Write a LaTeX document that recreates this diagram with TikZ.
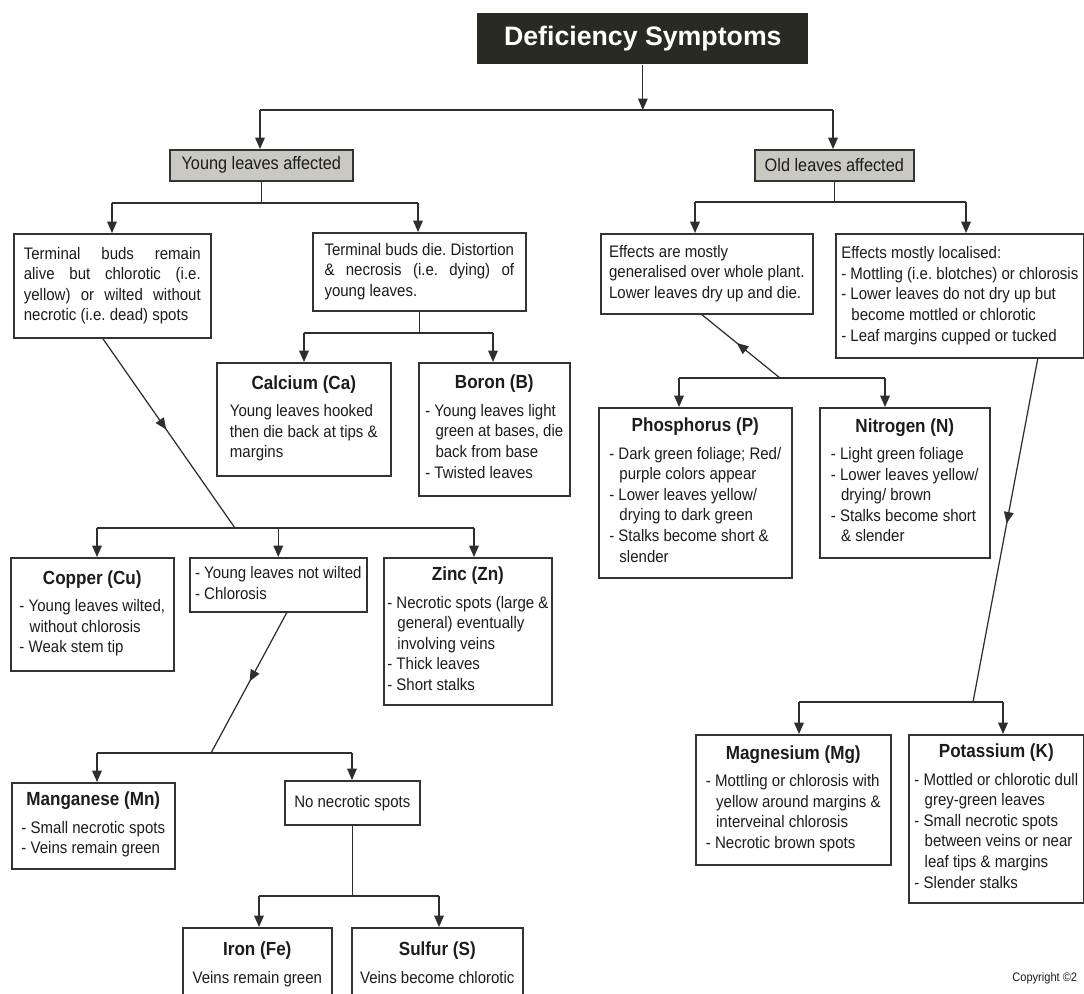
\documentclass[tikz,border=0pt]{standalone}
\usepackage{fontspec}
\setmainfont{Liberation Sans}[FakeStretch=0.9]
\newfontfamily\ttlfont{Liberation Sans}
\usetikzlibrary{arrows.meta,decorations.markings}
\frenchspacing
\definecolor{linec}{HTML}{2E2E2E}
\definecolor{boxc}{HTML}{333333}
\definecolor{txtc}{HTML}{1C1C1C}
\definecolor{grayfill}{HTML}{C9C9C1}
\definecolor{darkfill}{HTML}{2A2A24}
\newcommand\bodyfont{\fontsize{9.5}{11.7}\selectfont}
\newcommand\hdfont{\fontsize{10.8}{12.5}\selectfont\bfseries}
\newcommand\hgi{\hspace*{0.61em}}
\newcommand\tb[1]{\begin{tabular}{@{}l@{}}#1\end{tabular}}
\newsavebox\jbox
\newcommand\bxnode[7]{\node[#1, anchor=north west, minimum width={(#5-#3)*0.02cm}, minimum height={(#6-#4)*0.02cm}] (#2) at (#3,#4) {#7};}
\begin{document}
\begin{tikzpicture}[x=0.02cm,y=-0.02cm,
  box/.style={draw=boxc, line width=0.9pt, fill=white, inner sep=2pt, text=txtc, font=\bodyfont},
  grayb/.style={box, fill=grayfill, font=\fontsize{10.3}{12}\selectfont},
  darkb/.style={fill=darkfill, text=white, inner sep=2pt, font=\ttlfont\fontsize{15.2}{18}\selectfont\bfseries},
  ln/.style={draw=linec, line width=0.7pt},
  arr/.style={ln, -{Triangle[length=6.5pt,width=5.5pt]}},
  midarr/.style={ln, postaction={decorate}, decoration={markings, mark=at position #1 with {\arrow{Triangle[length=6.5pt,width=5.5pt]}}}},
  midarr/.default=0.5,
  midback/.style={ln, postaction={decorate}, decoration={markings, mark=at position #1 with {\arrowreversed{Triangle[length=6.5pt,width=5.5pt]}}}},
  midback/.default=0.5]
\useasboundingbox (0,0) rectangle (1084,993);
\clip (0,0) rectangle (1084,993);
\fill[white] (0,0) rectangle (1084,993);

% ---------- nodes ----------
\bxnode{darkb}{title}{477}{13}{808}{64}{Deficiency Symptoms}
\bxnode{grayb}{young}{169}{149}{352}{180}{Young leaves affected}
\bxnode{grayb}{old}{754}{149}{913}{180}{Old leaves affected}

\bxnode{box}{tbr}{13}{233}{210}{337}{\tb{\makebox[3.54cm][s]{Terminal buds remain}\\ \makebox[3.54cm][s]{alive but chlorotic (i.e.}\\ \makebox[3.54cm][s]{yellow) or wilted without}\\ necrotic (i.e. dead) spots}}
\bxnode{box}{tbd}{312}{232}{525}{310}{\sbox\jbox{Terminal buds die. Distortion}\tb{\usebox\jbox\\ \makebox[\wd\jbox][s]{\& necrosis (i.e. dying) of}\\ young leaves.}}

\bxnode{box}{ca}{216}{362}{390}{475}{\tb{\multicolumn{1}{@{}c@{}}{\hdfont Calcium (Ca)}\\[4pt] Young leaves hooked\\ then die back at tips \&\\ margins}}
\bxnode{box}{b}{418}{362}{569}{495}{\tb{\multicolumn{1}{@{}c@{}}{\hdfont Boron (B)}\\[4pt] - Young leaves light\\ \hgi green at bases, die\\ \hgi back from base\\ - Twisted leaves}}

\bxnode{box}{gen}{600}{233}{812}{313}{\tb{Effects are mostly\\ generalised over whole plant.\\ Lower leaves dry up and die.}}
\bxnode{box}{loc}{835}{233}{1083}{357}{\tb{Effects mostly localised:\\ - Mottling (i.e. blotches) or chlorosis\\ - Lower leaves do not dry up but\\ \hgi become mottled or chlorotic\\ - Leaf margins cupped or tucked}}

\bxnode{box}{p}{598}{407}{791}{577}{\tb{\multicolumn{1}{@{}c@{}}{\hdfont Phosphorus (P)}\\[4pt] - Dark green foliage; Red/\\ \hgi purple colors appear\\ - Lower leaves yellow/\\ \hgi drying to dark green\\ - Stalks become short \&\\ \hgi slender}}
\bxnode{box}{n}{819}{407}{989}{557}{\tb{\multicolumn{1}{@{}c@{}}{\hdfont Nitrogen (N)}\\[4pt] - Light green foliage\\ - Lower leaves yellow/\\ \hgi drying/ brown\\ - Stalks become short\\ \hgi \& slender}}

\bxnode{box}{cu}{10}{557}{173}{670}{\tb{\multicolumn{1}{@{}c@{}}{\hdfont Copper (Cu)}\\[4pt] - Young leaves wilted,\\ \hgi without chlorosis\\ - Weak stem tip}}
\bxnode{box}{ynw}{189}{557}{366}{611}{\tb{- Young leaves not wilted\\ - Chlorosis}}
\bxnode{box}{zn}{383}{557}{545}{704}{\tb{\multicolumn{1}{@{}c@{}}{\hdfont Zinc (Zn)}\\[4pt] - Necrotic spots (large \&\\ \hgi general) eventually\\ \hgi involving veins\\ - Thick leaves\\ - Short stalks}}

\bxnode{box}{mn}{11}{782}{174}{868}{\tb{\multicolumn{1}{@{}c@{}}{\hdfont Manganese (Mn)}\\[4pt] - Small necrotic spots\\ - Veins remain green}}
\bxnode{box}{nns}{284}{780}{419}{824}{No necrotic spots}
\bxnode{box}{fe}{182}{927}{331}{1002}{\tb{\multicolumn{1}{@{}c@{}}{\hdfont Iron (Fe)}\\[4pt] Veins remain green}}
\bxnode{box}{s}{351}{927}{522}{1002}{\tb{\multicolumn{1}{@{}c@{}}{\hdfont Sulfur (S)}\\[4pt] Veins become chlorotic}}

\bxnode{box}{mg}{695}{734}{890}{864}{\tb{\multicolumn{1}{@{}c@{}}{\hdfont Magnesium (Mg)}\\[4pt] - Mottling or chlorosis with\\ \hgi yellow around margins \&\\ \hgi interveinal chlorosis\\ - Necrotic brown spots}}
\bxnode{box}{k}{908}{734}{1083}{902}{\tb{\multicolumn{1}{@{}c@{}}{\hdfont Potassium (K)}\\[4pt] - Mottled or chlorotic dull\\ \hgi grey-green leaves\\ - Small necrotic spots\\ \hgi between veins or near\\ \hgi leaf tips \& margins\\ - Slender stalks}}

\node[font=\fontsize{7}{8}\selectfont, text=txtc, anchor=west, inner sep=0pt] (copy) at (1012,978) {Copyright ©2};

% ---------- junction coordinates ----------
\coordinate (hA1) at (260,110);  \coordinate (hA2) at (833,110);
\coordinate (hB1) at (112,203);  \coordinate (hB2) at (418,203);
\coordinate (hC1) at (695,202);  \coordinate (hC2) at (966,202);
\coordinate (hD1) at (304,333);  \coordinate (hD2) at (493,333);
\coordinate (hE1) at (679,378);  \coordinate (hE2) at (885,378);  \coordinate (hEm) at (780,378);
\coordinate (hF1) at (799,702);  \coordinate (hF2) at (1003,702); \coordinate (hFm) at (973,702);
\coordinate (hG1) at (97,528);   \coordinate (hG2) at (474,528);  \coordinate (hGm) at (235,528);
\coordinate (hH1) at (97,753);   \coordinate (hH2) at (352,753);  \coordinate (hHm) at (211,753);
\coordinate (hI1) at (259,896);  \coordinate (hI2) at (439,896);

% ---------- connectors ----------
\draw[arr] (title.south) -- (title.south |- hA1);
\draw[ln] (hA1) -- (hA2);
\draw[arr] (hA1) -- (hA1 |- young.north);
\draw[arr] (hA2) -- (hA2 |- old.north);

\draw[ln] (young.south) -- (young.south |- hB1);
\draw[ln] (hB1) -- (hB2);
\draw[arr] (hB1) -- (hB1 |- tbr.north);
\draw[arr] (hB2) -- (hB2 |- tbd.north);

\draw[ln] (old.south) -- (old.south |- hC1);
\draw[ln] (hC1) -- (hC2);
\draw[arr] (hC1) -- (hC1 |- gen.north);
\draw[arr] (hC2) -- (hC2 |- loc.north);

\draw[ln] (tbd.south) -- (tbd.south |- hD1);
\draw[ln] (hD1) -- (hD2);
\draw[arr] (hD1) -- (hD1 |- ca.north);
\draw[arr] (hD2) -- (hD2 |- b.north);

\draw[midback=0.45] ([xshift=-0.1cm]gen.south) -- (hEm);
\draw[ln] (hE1) -- (hE2);
\draw[arr] (hE1) -- (hE1 |- p.north);
\draw[arr] (hE2) -- (hE2 |- n.north);

\draw[midarr=0.48] ([xshift=1.56cm]loc.south) -- (hFm);
\draw[ln] (hF1) -- (hF2);
\draw[arr] (hF1) -- (hF1 |- mg.north);
\draw[arr] (hF2) -- (hF2 |- k.north);

\draw[midarr=0.48] ([xshift=-0.19cm]tbr.south) -- (hGm);
\draw[ln] (hG1) -- (hG2);
\draw[arr] (hG1) -- (hG1 |- cu.north);
\draw[arr] (hG1 -| ynw.north) -- (ynw.north);
\draw[arr] (hG2) -- (hG2 |- zn.north);

\draw[midarr=0.49] ([xshift=0.17cm]ynw.south) -- (hHm);
\draw[ln] (hH1) -- (hH2);
\draw[arr] (hH1) -- (hH1 |- mn.north);
\draw[arr] (hH2) -- (hH2 |- nns.north);

\draw[ln] (nns.south) -- (nns.south |- hI1);
\draw[ln] (hI1) -- (hI2);
\draw[arr] (hI1) -- (hI1 |- fe.north);
\draw[arr] (hI2) -- (hI2 |- s.north);
\end{tikzpicture}
\end{document}
